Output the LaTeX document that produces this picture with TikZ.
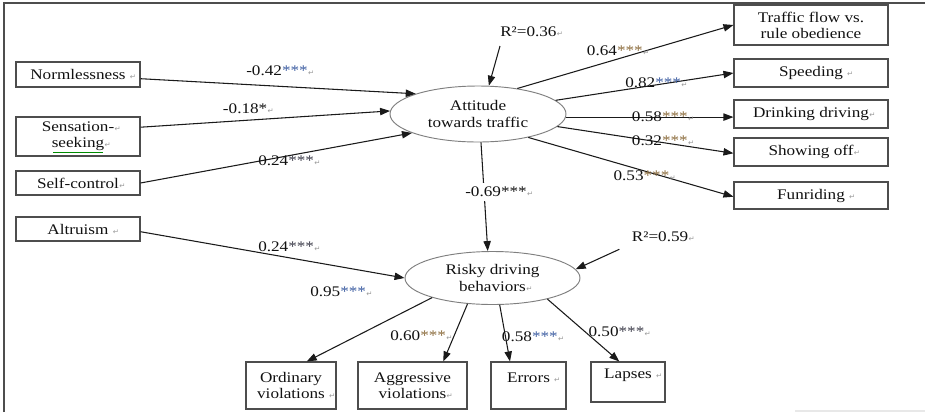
\documentclass[tikz,border=0pt]{standalone}
\usepackage{fontspec}
\setmainfont{Liberation Serif}[FakeStretch=1.17]
\newfontfamily\symf{DejaVu Sans}
\usetikzlibrary{arrows.meta,shapes.geometric,calc}
\definecolor{linec}{HTML}{1A1A1A}
\definecolor{boxc}{HTML}{4D4D4D}
\definecolor{ovalc}{HTML}{7F7F7F}
\definecolor{txt}{HTML}{111111}
\definecolor{starb}{HTML}{3A5BA0}
\definecolor{starn}{HTML}{8A6A3A}
\definecolor{stard}{HTML}{3A3A48}
\definecolor{pmgray}{HTML}{9A9A9A}
\newcommand\pmk{\rlap{\kern0.3pt{\symf\fontsize{5.5}{6}\selectfont\textcolor{pmgray}{↵}}}}
\newcommand\pmks{\rlap{\ {\symf\fontsize{5.5}{6}\selectfont\textcolor{pmgray}{↵}}}}
\begin{document}
\begin{tikzpicture}[x=0.75pt,y=-0.75pt,
  font=\fontsize{11}{12}\selectfont,
  sz/.style 2 args={minimum width={#1*0.75pt},minimum height={#2*0.75pt}},
  box/.style={draw=boxc, line width=0.8pt, inner sep=0pt, align=center, text=txt},
  oval/.style={ellipse, draw=ovalc, line width=0.7pt, inner sep=0pt, align=center, text=txt, font=\fontsize{11}{12.5}\selectfont},
  arr/.style={draw=linec, line width=0.8pt, -{Triangle[length=7.5pt,width=5.5pt]}},
  lab/.style={anchor=base west, inner sep=0pt, text=txt},
  framel/.style={draw=boxc, line width=0.8pt},
]
\useasboundingbox (0,0) rectangle (925,412);
% frame
\draw[framel] (4,412) -- (4,3) -- (925,3);
\draw[gray!18, line width=1.5pt] (795,411) -- (925,411);

% left boxes
\node[box, sz={124}{25}] (norm) at (78,74.5) {Normlessness\pmks};
\node[box, sz={124}{39}] (sens) at (78,136.5) {Sensation-\pmk\\seeking\pmk};
\draw[green!55!black, line width=0.5pt] (53,152) -- (103,152);
\node[box, sz={124}{24}] (self) at (78,183) {Self-control\pmk};
\node[box, sz={124}{24}] (alt) at (78,229) {Altruism\pmks};

% right boxes
\node[box, sz={154}{40}] (traf) at (811,25) {Traffic flow vs.\\rule obedience};
\node[box, sz={154}{28}] (speed) at (811,73) {Speeding\pmks};
\node[box, sz={154}{28}] (drink) at (811,114) {Drinking driving\pmk};
\node[box, sz={154}{28}] (show) at (811,152) {Showing off\pmk};
\node[box, sz={154}{27}] (fun) at (811,195.5) {Funriding\pmks};

% bottom boxes
\node[box, sz={90}{47}] (ord) at (291,385.5) {Ordinary\\violations\pmks};
\node[box, sz={109}{47}] (agg) at (412.5,385.5) {Aggressive\\violations\pmk};
\node[box, sz={75}{47}] (err) at (528.5,385.5) {Errors\pmks\\\mbox{}};
\node[box, sz={74}{40}] (lap) at (628,382) {Lapses\pmks\\\mbox{}};

% latent variables
\node[oval, sz={176}{56}] (att) at (478,114) {Attitude\\towards traffic};
\node[oval, sz={175}{53}] (risky) at (492.5,278) {Risky driving\\behaviors\pmk};

% R2 labels
\node[lab] (r2a) at (500,36.7) {R²=0.36\pmk};
\node[lab] (r2b) at (631.7,241.7) {R²=0.59\pmk};
\coordinate (r2as) at (500,46);
\coordinate (r2bs) at (619.3,249.3);

% arrows into attitude
\draw[arr] ($(norm.east)+(0,4.2)$) -- (att.162);
\draw[arr] ($(sens.east)+(0,-9.3)$) -- (att.178);
\draw[arr] (self.east) -- (att.196);
\draw[arr] (r2as) -- (att.69);

% arrows out of attitude
\draw[arr] (att.33) -- (traf.west);
\draw[arr] (att.10) -- (speed.west);
\draw[arr] (att.358) -- (att.358 -| drink.west);
\draw[arr] (att.351) -- ($(show.west)+(0,1.3)$);
\draw[arr] (att.335) -- ($(fun.west)+(0,1.2)$);

% into risky
\draw[arr] (att.276) -- (risky.100);
\draw[arr] ($(alt.east)+(0,2.7)$) -- (risky.west);
\draw[arr] (r2bs) -- (risky.6);

% out of risky
\draw[arr] (risky.198) -- ($(ord.north)+(15.7,0)$);
\draw[arr] (risky.226) -- ($(agg.north)+(30.8,0)$);
\draw[arr] (risky.285) -- ($(err.north)+(-18.5,0)$);
\draw[arr] (risky.339) -- ($(lap.north)+(-8.7,0)$);

% coefficient labels
\node[lab] (l42) at (246,75) {-0.42\textcolor{starb}{***}\pmk};
\node[lab] (l18) at (222.7,113) {-0.18*\pmk};
\node[lab] (l24a) at (258,165.7) {0.24\textcolor{stard}{***}\pmk};
\node[lab] (l24b) at (258,251.7) {0.24\textcolor{stard}{***}\pmk};
\node[lab, fill=white, inner ysep=3pt] (l69) at (465,196.7) {-0.69***\pmk};
\node[lab] (l64) at (586.7,55) {0.64\textcolor{starn}{***}\pmk};
\node[lab] (l82) at (625,87.3) {0.82\textcolor{starb}{***}\pmk};
\node[lab] (l58a) at (631.7,121.7) {0.58\textcolor{starn}{***}\pmk};
\node[lab] (l32) at (631.7,145.7) {0.32\textcolor{starn}{***}\pmk};
\node[lab] (l53) at (613.3,180) {0.53\textcolor{starn}{***}\pmk};
\node[lab] (l95) at (310,296.7) {0.95\textcolor{starb}{***}\pmk};
\node[lab] (l60) at (390,340) {0.60\textcolor{starn}{***}\pmk};
\node[lab] (l58b) at (501.7,341) {0.58\textcolor{starb}{***}\pmk};
\node[lab] (l50) at (588.3,336.7) {0.50\textcolor{stard}{***}\pmk};
\end{tikzpicture}
\end{document}
